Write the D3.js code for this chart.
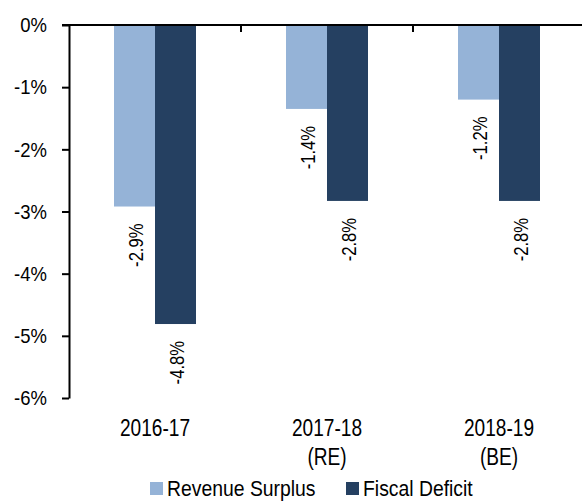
<!DOCTYPE html>
<html><head><meta charset="utf-8">
<script src="https://cdn.jsdelivr.net/npm/d3@7"></script>
<style>
html,body{margin:0;padding:0;background:#fff;}
svg{display:block;}
text{font-family:'Liberation Sans','Arial',sans-serif;fill:#000;}
</style></head>
<body>
<svg id="chart" width="582" height="501"></svg>
<script>
const categories = ["2016-17", "2017-18\n(RE)", "2018-19\n(BE)"];
const seriesNames = ["Revenue Surplus", "Fiscal Deficit"];
const revenueSurplus = [-2.92, -1.35, -1.2];
const fiscalDeficit = [-4.81, -2.83, -2.83];
const revenueLabels = ["-2.9%", "-1.4%", "-1.2%"];
const fiscalLabels = ["-4.8%", "-2.8%", "-2.8%"];
const yTicks = [0, -1, -2, -3, -4, -5, -6];
const colors = ["#95B3D7", "#254061"];

const svg = d3.select("#chart");
const y = d3.scaleLinear().domain([-6, 0]).range([398, 25]);
const x = d3.scaleBand().domain(categories).range([69, 585]).paddingInner(0).paddingOuter(0);
const barW = 41;
const x1 = d3.scaleBand().domain(seriesNames).range([x.bandwidth()/2 - barW, x.bandwidth()/2 + barW]);

const data = [revenueSurplus, fiscalDeficit];
const labels = [revenueLabels, fiscalLabels];

function condense(sel, f) {
  sel.each(function() {
    const w = this.getComputedTextLength();
    d3.select(this).attr("textLength", w * f).attr("lengthAdjust", "spacingAndGlyphs");
  });
}

// bars
seriesNames.forEach((s, si) => {
  svg.append("g").selectAll("rect").data(categories).join("rect")
    .attr("x", c => x(c) + x1(s))
    .attr("y", y(0))
    .attr("width", x1.bandwidth())
    .attr("height", (c, i) => y(data[si][i]) - y(0))
    .attr("fill", colors[si]);
  const lt = svg.append("g").selectAll("text").data(categories).join("text")
    .attr("transform", (c, i) => `translate(${x(c) + x1(s) + x1.bandwidth()/2},${y(data[si][i]) + 17}) rotate(-90)`)
    .attr("text-anchor", "end")
    .attr("dy", "0.42em")
    .style("font-size", "20px")
    .text((c, i) => labels[si][i]);
  condense(lt, 0.83);
});

// y axis
const yAxis = d3.axisLeft(y).tickValues(yTicks).tickFormat(d => d + "%").tickSize(7).tickPadding(15).tickSizeOuter(0);
const gy = svg.append("g").attr("transform", "translate(69,0)").call(yAxis);
gy.attr("font-family", null).attr("font-size", null);
gy.select(".domain").attr("stroke", "#000").attr("stroke-width", 2);
gy.selectAll(".tick line").attr("stroke", "#000").attr("stroke-width", 2);
gy.selectAll(".tick text").style("font-size", "21px");
condense(gy.selectAll(".tick text"), 0.88);

// zero line
svg.append("line").attr("x1", 62).attr("x2", 582).attr("y1", y(0)).attr("y2", y(0))
  .attr("stroke", "#000").attr("stroke-width", 2);
// category ticks
svg.append("g").selectAll("line").data(categories.slice(1)).join("line")
  .attr("x1", c => x(c)).attr("x2", c => x(c))
  .attr("y1", y(0)).attr("y2", y(0) + 7)
  .attr("stroke", "#000").attr("stroke-width", 2);

// category labels
const cl = svg.append("g").selectAll("text").data(categories).join("text")
  .attr("text-anchor", "middle")
  .style("font-size", "23px");
cl.each(function(c) {
  const t = d3.select(this);
  c.split("\n").forEach((line, li) => {
    t.append("tspan").attr("x", x(c) + x.bandwidth()/2).attr("y", 436 + li * 29).text(line);
  });
});
condense(cl.selectAll("tspan"), 0.83);

// legend
const legendX = [150, 346];
seriesNames.forEach((s, si) => {
  svg.append("rect").attr("x", legendX[si]).attr("y", 482).attr("width", 13).attr("height", 13).attr("fill", colors[si]);
  const lt = svg.append("text").attr("x", legendX[si] + 17).attr("y", 496).style("font-size", "22px").text(s);
  condense(lt, 0.88);
});
</script>
</body></html>
